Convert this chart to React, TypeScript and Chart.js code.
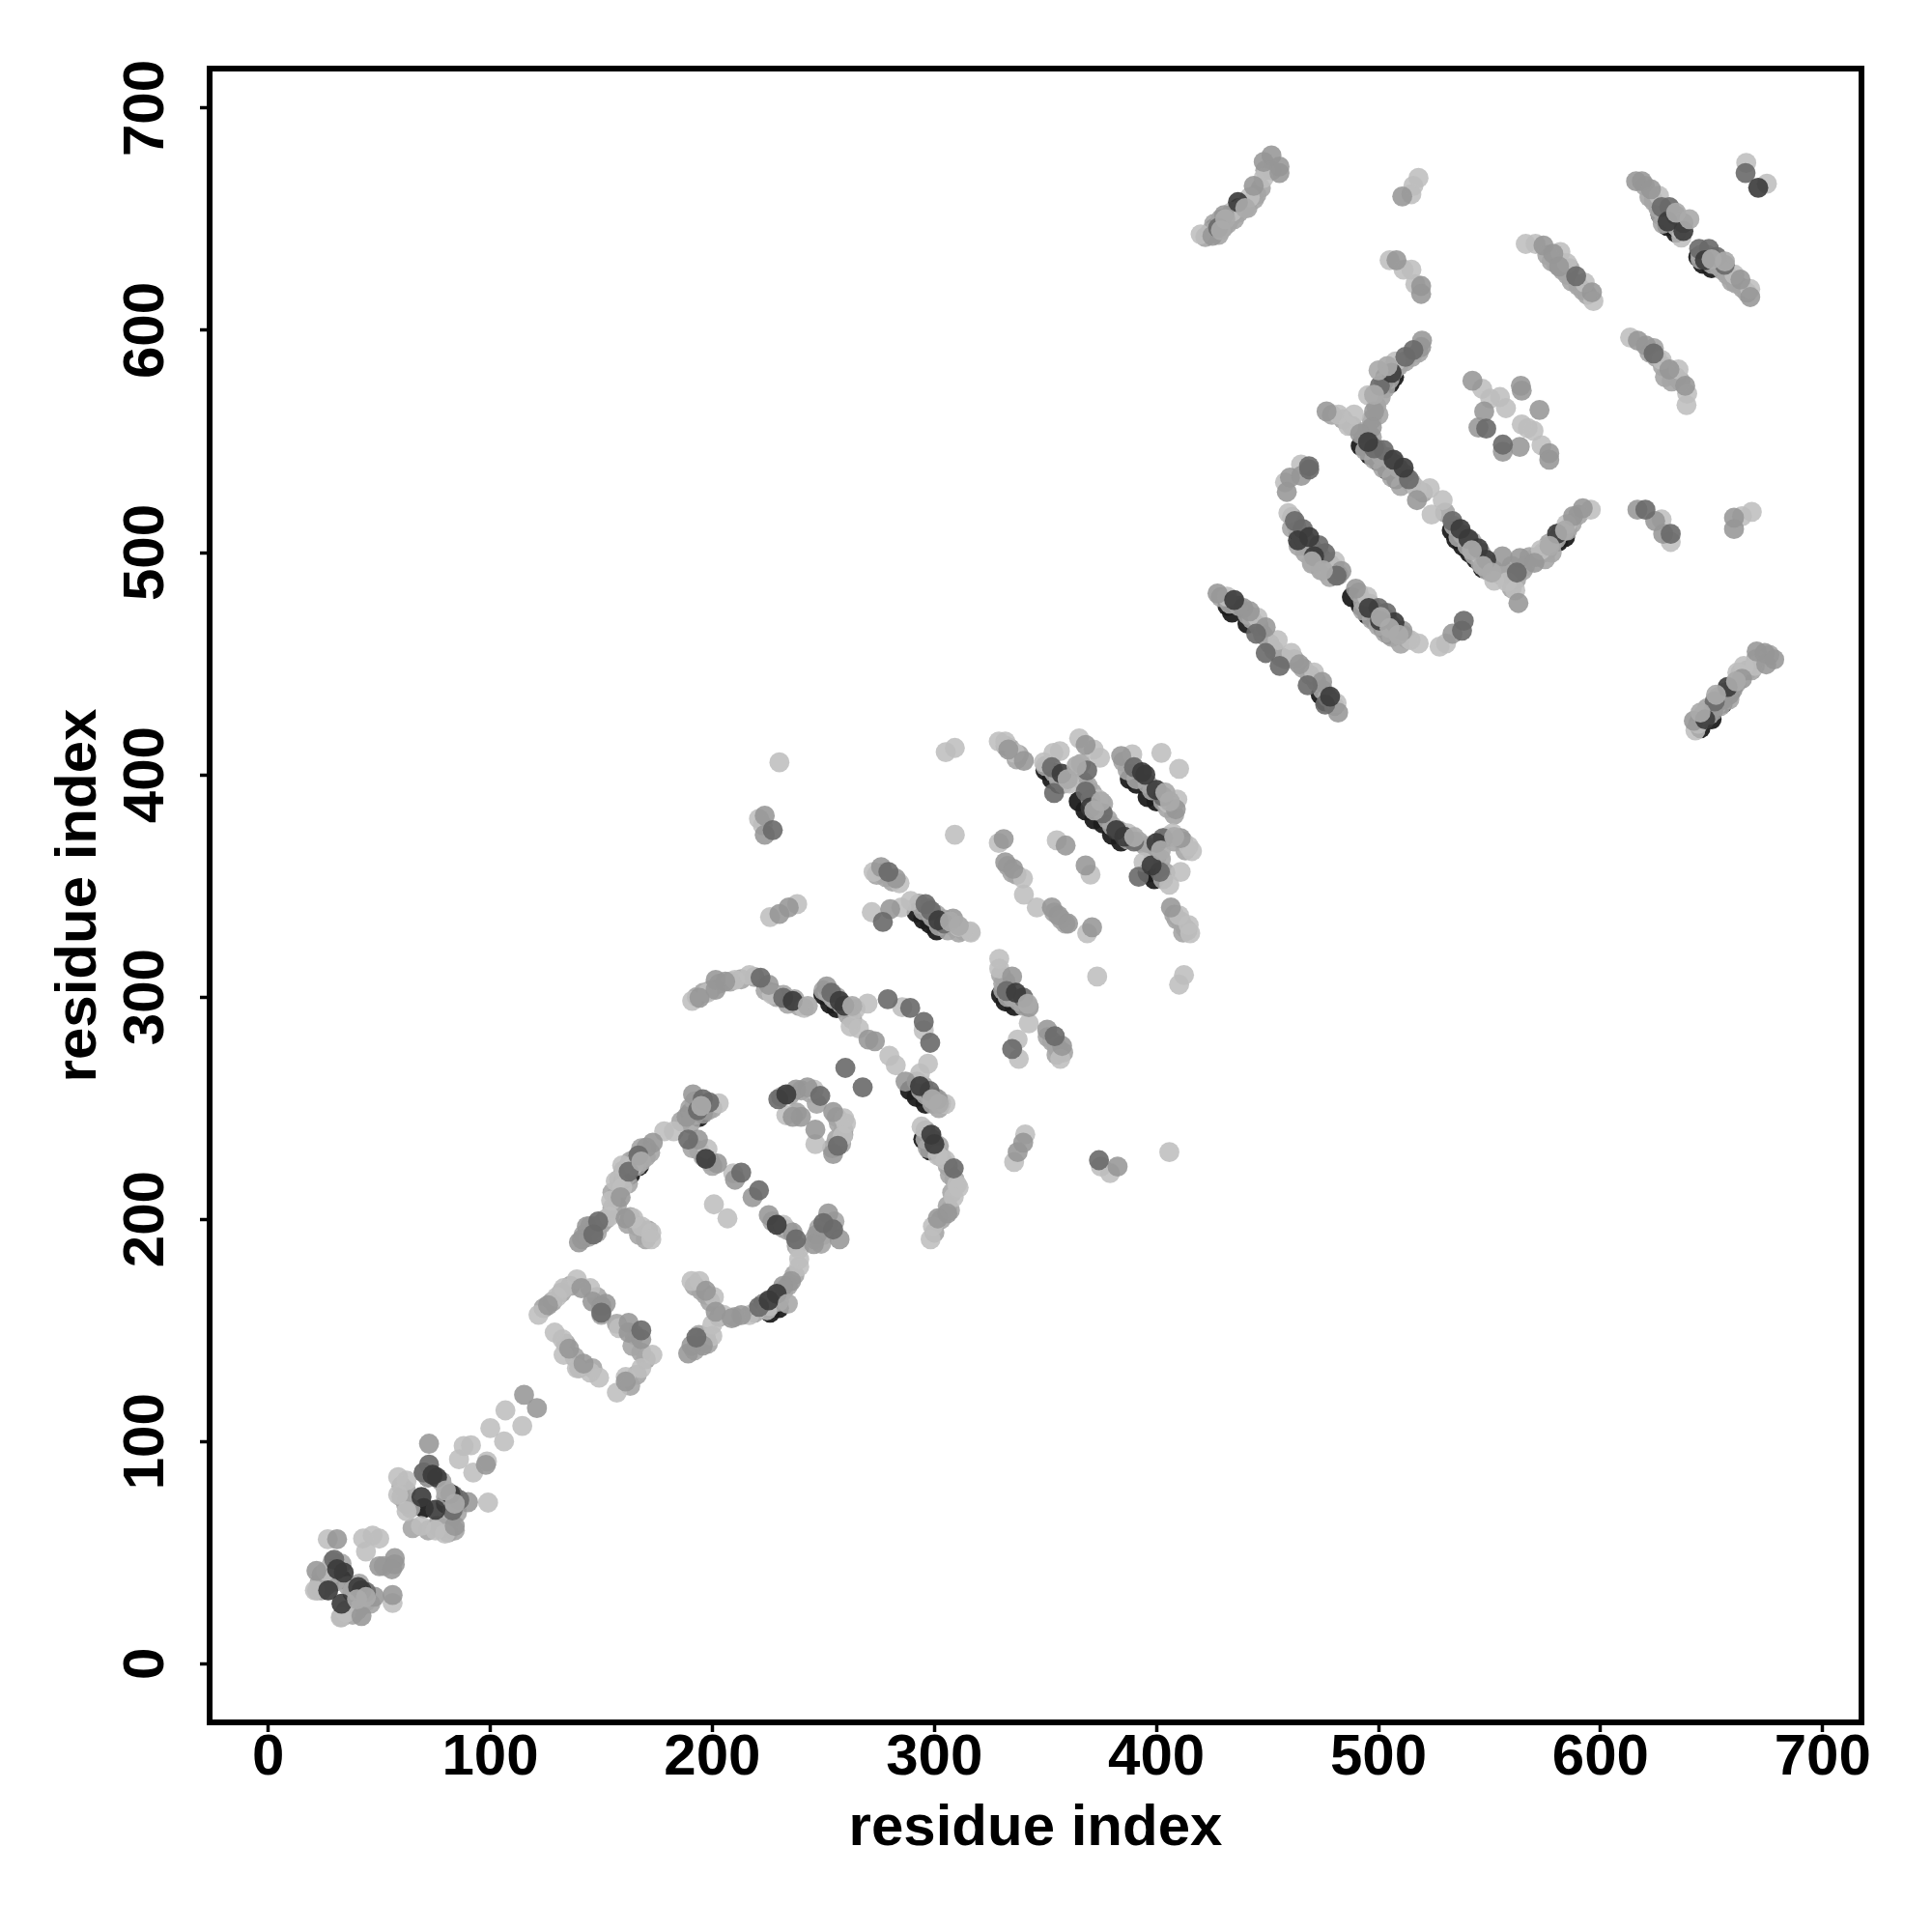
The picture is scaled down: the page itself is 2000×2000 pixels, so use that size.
import React, { useEffect, useRef } from "react";
import { Chart, registerables } from "chart.js";

Chart.register(...registerables);

const axisTicks = [0, 100, 200, 300, 400, 500, 600, 700];
const axisTitle = "residue index";

const lightPoints: [number, number][] = [
  [26.8,56],[42.7,56.3],[47,57.7],[50,56.3],[44,50.5],[26,41.8],[21,33],[56,27.3],[32.6,20.8],[35,23],
  [91.3,98.3],[88,98],[85.9,92],[98.5,91],[92.3,86],[100,106],[106.2,100],[106.8,114],[114.4,107],[99,72.5],
  [62.3,82.4],[58.5,84],[58.5,76],[62.3,68.6],[68.8,62],[75.3,60],[79.6,58.5],
  [121.7,157],[130,165],[133,169],[139,173],[145,169],[129,149],[132.5,146],[133,139],[139,133],[145,131],[149,128.7],
  [158,151],[173,139],[168,133],[161,129],[157,122],[190.6,172.2],[194.2,172.2],[200.7,165],[200,152.6],[200,147.5],
  [190.9,298.3],[197.8,301.9],[210.2,307.7],[216.7,309.9],[226.8,301.2],[241.3,295.1],[264.5,294.6],[269.9,297.1],
  [262.3,286.7],[266,285.9],[279.7,273.6],[282.6,269.3],[297.1,270],[293.5,265.6],[305,251.9],[285.5,295.4],[295.2,285],
  [245.7,258.4],[233.3,246.8],[246.4,233.8],[259.4,245.4],[260.2,243.2],[258.7,237.4],[202.9,252.2],[178.3,239.6],[182.6,239.6],
  [164.5,224.3],[159.4,224.3],[156.5,217.1],[159.4,214.2],[154.4,208.4],[153.6,201.2],[164.5,200.4],[168.1,196.8],[172.5,193.9],[172.5,191],
  [197.8,231.6],[209.4,220.7],[200.7,206.7],[206.8,200.4],[231.9,197.5],[239.1,186.7],[239.1,178.7],[239.1,182],[224.6,159.1],[216.7,156.9],[205,157],
  [230.2,405.6],[221,380.2],[222.7,377.3],[305.1,410.2],[309.2,412.1],[309.2,373],[226,336],[238.2,341.8],[271.8,338.2],[285.1,340.3],[289.3,343.2],
  [310.9,331.6],[316.4,329],[272.6,356.3],[284.3,351.2],[294.2,241.7],[301.5,228.7],[305,226.6],[310.2,215.6],[310.9,214.3],[308.7,209.9],[299.3,196.8],[298.3,191],
  [340.9,238.2],[335.9,225.8],[375,223.7],[379.1,220.8],[405.8,230.2],[329.2,317.2],[329.2,312.8],[342.5,288.2],[337.5,280.9],[338,272.2],[356.7,272.2],
  [373.3,309.2],[412.4,309.9],[410.2,305.6],[329,415],[331.9,415],[336.2,409.9],[349.3,405.6],[360.9,396.1],[356.5,410.6],[353.6,409.9],
  [365.2,416.4],[371.7,411.4],[374.6,407.7],[373.9,388.9],[389.1,409.2],[409.4,388.9],[402.2,409.9],[410.2,402.7],[405.1,387.4],[387,373.7],
  [407.3,373.7],[414.5,367.9],[416,365.7],[405.8,350.5],[410.9,356.3],[394.2,360.6],[410.2,336.7],[414.5,332.4],[415.2,328.7],[329,369.3],
  [339.9,353.4],[340.3,346.1],[346.1,340.3],[368.8,328.7],[355.1,370.5],[370.3,355.1],[316.2,329.5],
  [431.8,480.2],[445.6,470.7],[454.6,460.6],[460.8,454.8],[471,446.1],[481.1,432.3],[459.4,517.8],[480.4,496.1],[494.9,480.2],[514.4,460.6],[518.1,459.1],
  [527.5,457.7],[530.4,459.1],[457.9,531.6],[517.3,528.7],[523.1,529],[528.9,523.6],[523.9,517.1],[546.3,498.3],[552.1,487.4],[561.6,483],[557.9,486.7],
  [573.1,501.2],[576.8,504.1],[584.7,512.8],[595.6,519.3],[419.9,643.2],[434.1,653.4],[442,659.9],[448.3,668.6],
  [514.8,661.3],[515.7,665],[518,668.6],[505,631.6],[511.3,627.3],[514.8,627.3],[516.6,620.8],[566.3,638.9],[570.7,638.9],[581.9,635.3],[584.9,630.2],[592.9,621.5],[596.8,613.2],
  [626.3,660.6],[636.4,641.8],[660.3,625.1],[667.4,618.6],[665.6,675.4],[674.9,666],[546.7,573.7],[550.3,569.3],[554.7,570],[557.4,565],
  [564.5,557.7],[569.8,554.8],[567.2,556],[573.4,548.3],[613.3,596.8],[627.5,586.7],[635.1,582.4],[639,571.5],[638.7,566.4],[507.7,586],[495.3,570.8],
  [482,562.1],[486.4,557],[489,562.1],[465.1,539.6],[642.7,420],[646.3,427.2],[661.6,446],[664.5,449],[669.5,449],[627.5,514.9],[631.6,504.8],[663.7,516.4],[668.1,518.3],
];

const midPoints: [number, number][] = [
  [31,56],[57,47.5],[57,44.7],[50,43.9],[55.7,42.5],[21.7,41.8],[47.8,30.2],[56,30.9],[42,21.5],[72.4,99],[98,89.5],[90,72.7],[115.2,121],[121,115],
  [84,62],[126,161.3],[141,169],[146,163],[150,161],[152,162],[135.5,141.8],[142,135],[162.3,153.4],[162.3,149],[168,146],[161,127],
  [194.2,299.7],[201.5,303.3],[201.5,307.7],[205.8,307],[225.4,305.5],[251.5,304.8],[273.2,280.1],[270.3,280.9],[287,262],[301.5,254],
  [237.7,258.4],[242.8,259.4],[236.2,246.1],[239.9,246.1],[246.4,240.3],[254.4,248.3],[254.4,229.4],[191.3,256.2],[188.4,246.1],[195.7,247.5],
  [173.2,234.5],[170.3,232.3],[158.7,209.9],[143.5,196.8],[141.3,191],[139.9,189.6],[160.9,200.4],[193.5,235.9],[202.2,225.1],[210.2,217.8],[218.1,209.9],
  [225.4,201.9],[236.2,194],[252.2,202.6],[257.3,191],[247.1,193.2],[245.7,188.8],[235.5,172.2],[231.9,170],[213,156.9],[208.7,155.5],[197.1,167.8],[201.5,158.4],
  [195.7,143.2],[190.6,143.2],[189.1,139.6],[223.6,381.6],[223.6,373],[230.2,337.4],[234.4,340.3],[280.1,339.6],[308.4,335.3],[276,358.5],[282.6,353.4],
  [305.8,202.6],[301.5,200.4],[340,234.5],[337.5,230.2],[382.5,223.7],[335,309.2],[342.5,295.4],[350.8,285.3],[357.5,278],[333.3,411.4],[340.3,406.3],
  [368.1,413.5],[370.3,388.9],[384.1,408.5],[408.7,384.5],[410.9,371.5],[406.5,340.3],[331.2,371.1],[331.9,360.6],[335.5,357.7],
  [352.9,340.3],[355.8,336.7],[360.2,333.1],[371,331.4],[359.1,368.2],[368.1,359.2],[427.5,481.6],[439.1,475.1],[442,473.6],[449.2,466.4],[464.4,449.7],[474.6,441.8],[481.8,428],
  [483.3,491.7],[489.8,483.8],[510.8,464.9],[533.3,463.5],[460.1,533.8],[465.2,534.5],[458.7,527.3],[517.3,523.6],[555.8,498.3],[563.7,497.6],[563,477.3],
  [570.2,495.4],[587.6,516.4],[592,520],[616.6,519.3],[624.6,514.2],[628.2,508.4],[425.2,642.5],[430.5,651.9],[443.8,665],[448.3,675.8],[451.8,678.7],[455.4,673.7],[455.4,670.8],
  [510.7,660.3],[508.1,631.6],[519.2,620],[519.2,616.4],[574.3,638.2],[578.7,634.5],[581.3,628.7],[596.1,617.1],[616,667.1],[618.6,667.1],[622.7,663.5],
  [663,622.9],[667.4,615],[542.3,577.3],[564.5,572.9],[564.1,575.1],[572.5,564.2],[547.6,563.5],[545,556.3],[556,545.4],[563.6,547.6],[576.9,544.7],[576.9,541.8],
  [616.8,595.4],[620.4,593.2],[631,582.4],[638.1,575.1],[519.6,595.4],[519.2,592.5],[502.4,577],[498,563.5],[497,556.3],[476.6,563.5],[491.7,553.4],
  [642,424.3],[650.7,428.7],[655,433.7],[659.4,438.1],[663.7,443.2],[670.3,455.5],[673.9,454.8],[674.6,449.7],[678.2,451.9],[660.1,510.6],[660.1,515.7],
];

const dimPoints: [number, number][] = [
  [29.7,46.8],[44,32.3],[72.4,89.6],[70,86],[83.3,75.8],[86,73.7],[83,69],[168,150],[150,158],[221.7,308.7],[231.9,299.7],[253.6,301.9],[297.8,257.7],[279,299],[289.1,295.1],[295.2,288.8],[298.1,279.4],
  [259.9,268.1],[267.7,259.4],[229.7,254],[248.6,255.5],[256.5,233.1],[195.7,254],[198.6,252.6],[193.5,249],[166.7,228.7],[162.3,221.4],[148.6,199],[146.4,193.2],
  [189.1,235.9],[213,221],[221,213],[237.7,191],[250,198.3],[254.4,195.4],[221,160.6],[192.8,146.8],[227.2,375.1],[276.8,333.8],[296,341.8],[298.4,338.9],[304.3,333.1],[279.3,356.3],
  [308.7,222.9],[374.1,226.6],[332.5,302.7],[340,299.8],[335,276.6],[354.2,282.4],[352.9,403.4],[353.9,391.8],[368.8,401.9],[368.1,392.5],[375.8,382.7],
  [389.9,403.4],[402.9,390.3],[389.9,370],[402.9,371.5],[392,354.1],[401.5,356.3],[444.9,463.5],[449.2,454.8],[455.5,449],[468.1,440.3],[476,431.6],
  [462.3,514.2],[465.9,510.6],[473.1,503.3],[476,499.7],[481.1,489.6],[500,475.1],[503.6,472.9],[537.6,464.9],[538.4,469.3],[468.8,537.4],[513.7,533],[533.3,514.2],[562.3,491],
  [620.2,519.3],[631.6,508.4],[427.8,646.1],[589,624.4],[627.5,655.5],[631,655.5],[633.7,651.9],[637.3,648.3],[644.4,636.7],[648.8,636.7],[652.3,633.1],[655.9,629.5],[665.3,670.8],
  [548.5,555.8],[556,548.6],[623.9,589.6],[515.7,591.1],[512.1,588.1],[500.6,575.1],[498,546.9],[502.4,546.1],[468.7,538.9],[651.4,433],
];

const darkPoints: [number, number][] = [
  [34,41],[31,42.5],[27,33],[33,27],[40.5,34.5],[42,33],[69,75],[75.3,69.3],[76,83.8],[74,85],[82,76.5],[236.2,298.3],[257.3,298.3],[259.4,296.1],[293.5,259.9],
  [233.3,256.2],[197.1,227.2],[229,197.5],[229,166.4],[225.4,163.5],[301.8,334.5],[298.6,238.1],[300,233.8],[336.7,302],[357.3,400.5],[370.3,385.3],
  [393.5,401.2],[395,400],[400,393.2],[381.9,375.1],[385.5,372.2],[400,369.3],[397.8,359.2],[435,478.7],[478.2,435.2],[463.7,505.5],[468.8,507],[471,498.3],
  [495.6,475.1],[500.7,469.3],[507.2,468.6],[536.9,510.6],[540.5,506.2],[544.9,501.9],[548.5,496.8],[580.4,508.4],[436.7,657.7],[630.2,649],[637.3,644.7],[647,631.6],[671,664.2],
  [505.9,580.9],[495.3,549.7],[506.8,541.8],[511.3,538.2],[647.1,425],[657.2,439.5],
];

const fillPoints: [number, number][] = [
  [429,480],[433,477],[437,476],[441,472],[443,470],[446,467],[448,463],[451,459],[453,456],[456,453],[458,452],[462,452],[466,448],[469,445],[472,442],[475,438],[477,435],[480,431],
  [461,516],[463,512],[465,508],[467,506],[469,504],[470,502],[472,500],[474,498],[476,496],[478,495],[480,493],[482,490],[461,511],[464,503],[467,500],[470,495],[474,492],[478,489],
  [491,482],[493,478],[496,477],[498,474],[501,472],[504,470],[506,467],[508,465],[511,463],[513,461],[493,474],[497,470],[500,467],[503,464],[506,462],[510,459],
  [479,562],[484,560],[488,557],[493,553],[496,550],[499,547],[501,544],[504,543],[507,540],[509,538],[512,535],[515,531],[520,527],[530,518],[534,512],[538,508],[542,505],[546,500],[549,495],[552,492],[555,490],[536,507],[540,503],[543,499],[546,495],[549,492],[494,546],[498,542],[502,538],[506,534],[510,530],
  [497,560],[499,566],[501,570],[503,574],[505,578],[507,582],[509,584],[512,586],[515,588],[518,590],[497,552],[495,555],[500,562],
  [566,494],[568,498],[571,498],[574,500],[576,501],[578,504],[580,506],[582,509],[585,510],[587,513],[590,517],[575,497],[578,500],[558,491],[560,494],[562,488],[560,484],[565,492],
  [422,642],[424,644],[426,644],[428,643],[430,646],[432,648],[433,650],[435,650],[437,653],[438,655],[440,656],[441,655],[444,659],[445,661],[447,664],[449,672],[452,672],[426,648],[429,650],
  [620,665],[622,660],[624,658],[627,652],[629,652],[632,650],[634,647],[635,646],[628,648],[626,655],
  [645,634],[648,634],[650,630],[653,629],[655,627],[657,625],[659,622],[661,621],[664,619],[666,617],[650,633],[645,632],
  [576,634],[578,631],[580,630],[583,627],[585,625],[587,622],[590,620],[592,618],[594,616],[586,628],[622,590],[625,588],[628,584],[629,579],[632,577],[634,579],[636,577],[624,592],
  [644,423],[645,425],[648,430],[649,427],[652,431],[653,435],[654,431],[656,437],[658,434],[660,440],[661,441],[663,446],[666,447],[668,447],[670,452],[676,454],
  [350,404],[354,401],[356,398],[358,396],[366,405],[367,397],[369,395],[371,392],[372,387],[374,385],[376,387],[378,380],[380,377],[383,375],[387,371],[392,370],[395,368],[398,366],[399,362],
  [385,406],[387,402],[391,398],[396,396],[398,393],[403,388],[405,385],[408,382],[400,363],[402,362],[404,356],[403,353],
  [408,337],[409,335],[411,334],[413,331],[412,329],[414,330],[405,372],[408,370],[412,370],[413,366],[332,413],[334,412],[337,407],[338,409],[333,359],[335,356],[337,355],[354,338],[357,335],[359,333],
  [293,342],[295,339],[297,340],[299,336],[301,337],[302,332],[304,335],[306,330],[308,332],[311,329],[313,330],[274,355],[277,356],[278,354],[281,352],
  [250,303],[252,302],[254,300],[255,299],[256,300],[258,297],[260,295],[261,292],[263,290],[292,262],[294,258],[296,256],[295,260],[298,255],[300,255],[299,252],[303,252],[302,250],
  [224,303],[227,302],[229,300],[232,301],[234,297],[237,299],[239,296],[193,300],[196,302],[199,303],[203,306],[208,307],[213,308],[219,309],
  [296,240],[296,236],[299,236],[297,232],[302,233],[303,228],[306,224],[307,220],[309,218],[308,212],[306,206],[307,204],[303,200],[300,194],
  [330,310],[331,306],[331,303],[333,300],[335,300],[338,298],[340,296],[332,307],[351,282],[353,280],[355,278],[356,276],[358,275],[355,274],
  [160,222],[161,219],[163,226],[165,227],[168,232],[166,224],[170,228],[172,230],[157,211],[157,206],[155,205],[155,212],[158,218],[162,216],
  [142,193],[144,192],[147,196],[150,198],[152,200],[145,197],[148,194],[162,198],[166,197],[167,193],[170,191],[171,195],[163,201],
  [190,250],[192,253],[194,251],[196,250],[198,249],[200,250],[190,243],[192,247],[186,244],[191,232],[194,231],[196,228],[199,226],[200,224],
  [231,255],[235,256],[240,258],[244,257],[247,252],[238,248],[256,246],[257,243],[259,240],[258,234],[256,236],[254,232],[259,238],
  [228,165],[232,168],[234,170],[237,175],[223,162],[219,158],[226,161],[230,163],[210,156],[203,156],[192,170],[195,168],[197,166],[199,163],[193,144],[197,147],[198,144],[192,141],[194,148],[196,145],
  [227,199],[232,196],[234,195],[238,188],[248,196],[250,193],[246,191],[249,189],[252,198],[255,199],
  [24,40],[24,33],[28,40],[30,37],[22,33],[23,36],[26,35],[38,22],[40,24],[42,26],[44,28],[36,35],[38,33],[46,27],[33,21],[52,44],[29,46],[33,45],[35,24],[41,36],
  [60,80],[60,75],[62,72],[62,78],[64,70],[70,86],[72,84],[78,82],[80,75],[84,70],[85,68],[72,60],[76,62],[78,61],[81,59],[82,65],[84,60],[65,61],
  [124,160],[128,163],[132,167],[136,170],[148,165],[150,157],[157,153],[164,143],[168,140],[166,130],[163,125],[170,137],[134,144],[138,138],[140,133],[146,133],[165,148],
];

const underDarkPoints: [number, number][] = [
  [464,509],[466,506],[468,503],[470,501],[473,499],[475,496],[488,480],[492,476],[495,472],[498,470],[502,466],[505,463],
  [533,510],[535,506],[538,503],[541,500],[544,497],[547,493],[492,548],[496,544],[500,541],[504,537],[508,533],
  [503,579],[505,576],[507,579],[577,504],[581,505],[584,507],[432,476],[434,473],[441,468],[474,436],[476,433],
  [426,646],[430,650],[434,652],[437,655],[627,652],[630,647],[634,644],[644,633],[646,630],[650,628],[645,421],[650,425],[655,432],[658,436],
  [350,402],[353,398],[356,396],[365,388],[368,384],[372,380],[376,378],[380,373],[384,370],[388,398],[391,396],[396,390],[400,388],[396,356],[399,353],
  [292,338],[295,335],[298,333],[301,330],[250,301],[253,297],[256,295],[289,258],[292,255],[296,252],[330,301],[332,298],[336,296],[295,236],[298,231],
  [160,218],[163,220],[167,224],[223,162],[226,158],[230,160],[190,248],[194,246],[30,43],[33,38],[38,32],[72,84],[80,72],[70,70],
];

const topPoints: [number, number][] = [
  [475,492],[470,496],[505,466],[509,463],[501,471],[542,501],[547,494],[551,491],[584,510],[577,503],[431,650],[440,655],[429,645],
  [652,436],[661,442],[645,428],[500,582],[504,584],[498,571],[307,334],[311,332],[299,254],[302,252],[263,296],[243,296],
  [375,388],[372,384],[402,366],[408,372],[390,372],[360,398],[364,404],[406,388],[404,392],[342,297],[234,162],[168,226],
  [650,632],[656,631],[634,653],[640,650],[195,251],[40,29],[44,30],[84,72],[80,78],
];

const toXY = (pts: [number, number][]) => pts.map(([x, y]) => ({ x, y }));

const boxPlugin = {
  id: "box",
  afterDraw(chart: any) {
    const { ctx, chartArea: a } = chart;
    ctx.save();
    ctx.strokeStyle = "#000";
    ctx.lineWidth = 6;
    ctx.strokeRect(a.left, a.top, a.right - a.left, a.bottom - a.top);
    ctx.restore();
  },
};

export default function App() {
  const ref = useRef<HTMLCanvasElement>(null);
  useEffect(() => {
    const font = { family: "'Liberation Sans'", size: 60, weight: "bold" as const };
    const tick = (v: any) => (axisTicks.includes(Number(v)) ? String(v) : "");
    const chart = new Chart(ref.current!, {
      type: "scatter",
      data: {
        datasets: [
          { data: toXY(topPoints), backgroundColor: "rgba(170,170,170,0.92)" },
          { data: toXY(darkPoints), backgroundColor: "rgba(58,58,58,0.9)" },
          { data: toXY(dimPoints), backgroundColor: "rgba(105,105,105,0.9)" },
          { data: toXY(midPoints), backgroundColor: "rgba(150,150,150,0.88)" },
          { data: toXY(lightPoints), backgroundColor: "rgba(190,190,190,0.88)" },
          { data: toXY(fillPoints), backgroundColor: "rgba(165,165,165,0.9)" },
          { data: toXY(underDarkPoints), backgroundColor: "rgba(30,30,30,0.95)" },
        ],
      },
      options: {
        responsive: false,
        animation: false,
        clip: false,
        layout: { padding: { top: 71, right: 73, left: 0, bottom: 0 } },
        plugins: { legend: { display: false }, tooltip: { enabled: false } },
        elements: { point: { radius: 10.4, borderWidth: 0, hoverRadius: 10.4 } },
        scales: {
          x: {
            type: "linear",
            min: -26.4,
            max: 717.5,
            afterFit: (s: any) => { s.height = 217; },
            border: { display: false },
            grid: { drawOnChartArea: false, drawTicks: true, tickLength: 10, tickWidth: 3.5, tickColor: "#000" },
            ticks: { stepSize: 100, includeBounds: false, autoSkip: false, maxRotation: 0, minRotation: 0, color: "#000", font, padding: -9, callback: tick },
            title: { display: true, text: axisTitle, color: "#000", font, padding: { top: 0, bottom: 71 } },
          },
          y: {
            type: "linear",
            min: -26.4,
            max: 717.8,
            afterFit: (s: any) => { s.width = 217; },
            border: { display: false },
            grid: { drawOnChartArea: false, drawTicks: true, tickLength: 10, tickWidth: 3.5, tickColor: "#000" },
            ticks: { stepSize: 100, includeBounds: false, autoSkip: false, minRotation: 90, maxRotation: 90, crossAlign: "center", color: "#000", font, padding: 4, callback: tick },
            title: { display: true, text: axisTitle, color: "#000", font, padding: { top: 46, bottom: 0 } },
          },
        },
      } as any,
      plugins: [boxPlugin],
    });
    return () => chart.destroy();
  }, []);
  return (
    <div style={{ position: "absolute", left: 0, top: 0, width: 2000, height: 2000, background: "#fff" }}>
      <canvas ref={ref} width={2000} height={2000} style={{ display: "block" }} />
    </div>
  );
}
